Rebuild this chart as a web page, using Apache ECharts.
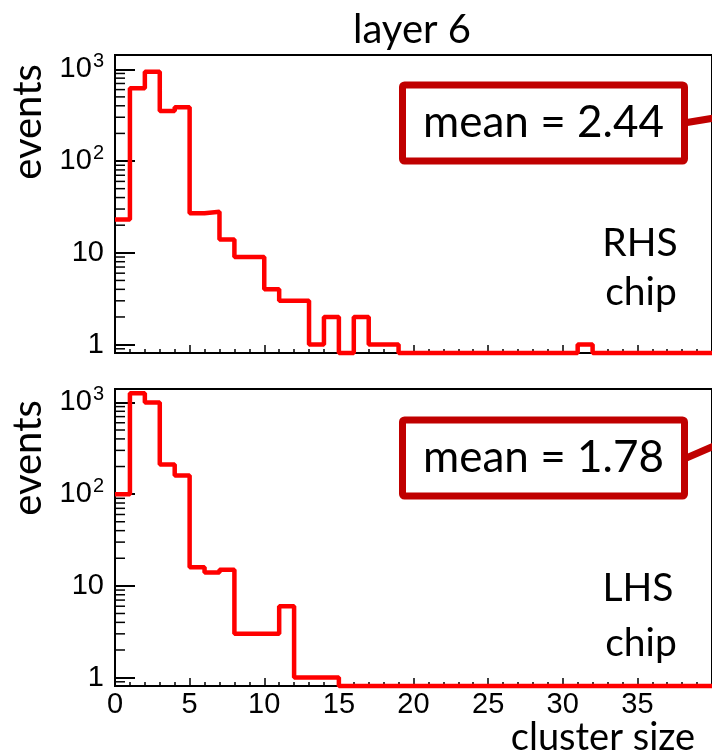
<!DOCTYPE html>
<html>
<head>
<meta charset="utf-8">
<script src="https://cdn.jsdelivr.net/npm/echarts@6/dist/echarts.min.js"></script>
<style>
html,body{margin:0;padding:0;background:#fff;}
#chart{width:712px;height:756px;}
</style>
</head>
<body>
<div id="chart"></div>
<script>
// ---- data (cluster size bins of width 1, starting at 0) ----
const titleText = 'layer 6';
const xTitle = 'cluster size';
const yTitle = 'events';
const xTicks = [0, 5, 10, 15, 20, 25, 30, 35];
const rhsCounts = [23, 620, 940, 350, 385, 27, 28, 14, 9, 9, 4, 3, 3, 1, 2, 0, 2, 1, 1, 0,
                   0, 0, 0, 0, 0, 0, 0, 0, 0, 0, 0, 1, 0, 0, 0, 0, 0, 0, 0, 0];
const lhsCounts = [100, 1260, 1000, 210, 160, 16, 14, 15, 3, 3, 3, 6, 1, 1, 1, 0, 0, 0, 0, 0,
                   0, 0, 0, 0, 0, 0, 0, 0, 0, 0, 0, 0, 0, 0, 0, 0, 0, 0, 0, 0];
const rhsLabel = ['RHS', 'chip'];
const lhsLabel = ['LHS', 'chip'];
const rhsMean = 'mean = 2.44';
const lhsMean = 'mean = 1.78';
const minorTickValues = [0.9, 2, 3, 4, 5, 6, 7, 8, 9, 20, 30, 40, 50, 60, 70, 80, 90,
                         200, 300, 400, 500, 600, 700, 800, 900];

const Y_MIN = 0.81;
const Y_MAX_TOP = 1430;
const Y_MAX_BOT = 1400;
const X_MAX = 40;

function histPoints(counts) {
  const pts = counts.map((v, i) => [i, v > 0 ? v : Y_MIN]);
  const last = counts[counts.length - 1];
  pts.push([counts.length, last > 0 ? last : Y_MIN]);
  return pts;
}

const chart = echarts.init(document.getElementById('chart'), null, {renderer: 'canvas'});

const tickFont = 'Liberation Sans';

function yAxisCfg(gridIndex, max) {
  return {
    type: 'log', logBase: 10, gridIndex: gridIndex, min: Y_MIN, max: max,
    axisLine: {show: true, lineStyle: {color: '#000', width: 2}},
    axisTick: {show: true, inside: true, length: 20, lineStyle: {color: '#000', width: 2}},
    minorTick: {show: false},
    splitLine: {show: false},
    axisLabel: {
      show: true, margin: 11, color: '#000', fontFamily: tickFont, fontSize: 29,
      showMinLabel: false, showMaxLabel: false,
      formatter: function (v) {
        const e = Math.round(Math.log10(v));
        if (Math.abs(v - Math.pow(10, e)) > 1e-6 * Math.pow(10, e)) return '';
        if (e === 0) return '1';
        if (e === 1) return '10';
        return '10{sup|' + e + '}';
      },
      rich: {sup: {fontSize: 20, fontFamily: tickFont, color: '#000', verticalAlign: 'bottom', padding: [0, 0, 15, 1]}}
    }
  };
}

function xAxisCfg(gridIndex, showLabels) {
  return {
    type: 'value', gridIndex: gridIndex, min: 0, max: X_MAX, interval: 5,
    axisLine: {show: true, onZero: false, lineStyle: {color: '#000', width: 2}},
    axisTick: {show: true, inside: true, length: 8, lineStyle: {color: '#000', width: 1.5}},
    minorTick: {show: true, splitNumber: 5, length: 4, lineStyle: {color: '#000', width: 1.5}},
    splitLine: {show: false},
    axisLabel: {
      show: showLabels, margin: 4, color: '#000', fontFamily: tickFont, fontSize: 29,
      showMaxLabel: false,
      formatter: function (v) { return xTicks.indexOf(v) >= 0 ? String(v) : ''; }
    }
  };
}

function minorTickSeries(idx) {
  return {
    type: 'custom', xAxisIndex: idx, yAxisIndex: idx, silent: true, z: 5,
    data: minorTickValues.map(v => [0, v]),
    renderItem: function (params, api) {
      const p = api.coord([api.value(0), api.value(1)]);
      return {type: 'line', shape: {x1: p[0], y1: p[1], x2: p[0] + 10, y2: p[1]},
              style: {stroke: '#000', lineWidth: 1.5}};
    }
  };
}

function histSeries(idx, counts) {
  return {
    type: 'line', xAxisIndex: idx, yAxisIndex: idx, step: 'end', symbol: 'none',
    clip: false, z: 3,
    lineStyle: {color: '#ff0000', width: 4.5},
    data: histPoints(counts)
  };
}

const boxColor = '#c00000';
function meanBox(x, y, w, h, text, lx1, ly1, lx2, ly2) {
  return [
    {type: 'line', shape: {x1: lx1, y1: ly1, x2: lx2, y2: ly2}, style: {stroke: boxColor, lineWidth: 7}, z: 10},
    {type: 'rect', shape: {x: x, y: y, width: w, height: h, r: 2}, style: {fill: '#fff', stroke: boxColor, lineWidth: 7}, z: 11},
    {type: 'text', x: x + w / 2, y: y + h / 2, z: 12,
     style: {text: text, fill: '#000', font: '44px Lato', align: 'center', verticalAlign: 'middle'}}
  ];
}

function txt(text, x, y, size, rot) {
  return {type: 'text', x: x, y: y, rotation: rot || 0, z: 12,
          style: {text: text, fill: '#000', font: size + 'px Lato', align: 'center', verticalAlign: 'middle'}};
}

const option = {
  animation: false,
  backgroundColor: '#fff',
  grid: [
    {left: 115, top: 55, height: 298, right: -7, show: true, borderColor: '#000', borderWidth: 2, backgroundColor: 'transparent'},
    {left: 115, top: 389, height: 297, right: -7, show: true, borderColor: '#000', borderWidth: 2, backgroundColor: 'transparent'}
  ],
  xAxis: [xAxisCfg(0, false), xAxisCfg(1, true)],
  yAxis: [yAxisCfg(0, Y_MAX_TOP), yAxisCfg(1, Y_MAX_BOT)],
  series: [
    histSeries(0, rhsCounts), histSeries(1, lhsCounts),
    minorTickSeries(0), minorTickSeries(1)
  ],
  graphic: [].concat(
    [txt(titleText, 412, 30, 40),
     txt(yTitle, 28, 122, 40, Math.PI / 2),
     txt(yTitle, 28, 458, 40, Math.PI / 2),
     txt(rhsLabel[0], 640, 243, 39),
     txt(rhsLabel[1], 641, 292, 39),
     txt(lhsLabel[0], 638, 588, 39),
     txt(lhsLabel[1], 641, 643, 39),
     txt(xTitle, 603, 738, 38)],
    meanBox(402.5, 85, 282, 76, rhsMean, 684, 123, 714, 118),
    meanBox(402.5, 420, 282, 76, lhsMean, 684, 459, 714, 446)
  )
};
chart.setOption(option);
</script>
</body>
</html>
